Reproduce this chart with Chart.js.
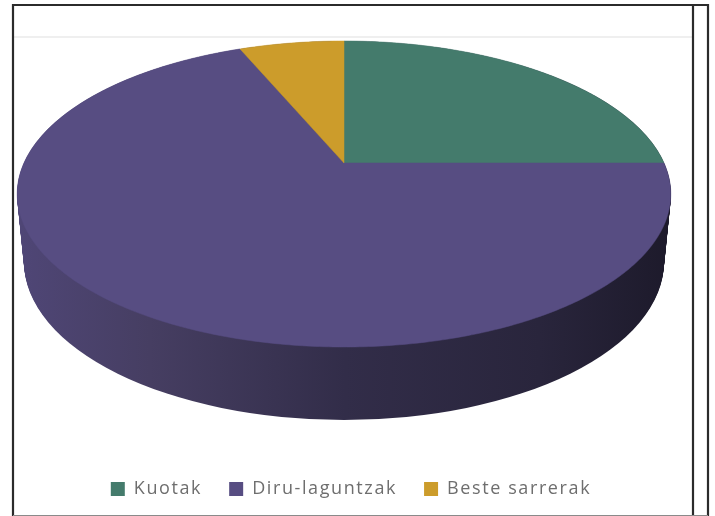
<!DOCTYPE html>
<html><head><meta charset="utf-8">
<style>html,body{margin:0;padding:0;background:#fff;overflow:hidden}canvas{display:block;filter:blur(.6px)}</style>
<script src="https://cdn.jsdelivr.net/npm/chart.js@4"></script></head>
<body><canvas id="c" width="715" height="516"></canvas>
<script>
const categories = ["Kuotak", "Diru-laguntzak", "Beste sarrerak"];
const shares = [25, 68.7, 6.3];
const colors = ["#447b6c", "#574d82", "#cc9c2b"];

// tilted-disc projection of the library's arc angles
const apexX = 344, apexY = 163, spanX = 320, rise = 113.7, tilt = -0.2026;
const project = (a) => {
  const u = Math.cos(a), v = Math.sin(a), w = 1 + tilt * v;
  return [apexX + spanX * u / w, (apexY + rise * v) / w];
};
const ellipseTop = {cy: 194, rx: 327, ry: 153};
const ellipseLow = {cy: 262, rx: 320, ry: 158};

const tiltedPie = {
  id: "tiltedPie",
  beforeLayout(chart) { chart.ctx.letterSpacing = "1.6px"; },
  beforeDraw(chart) {
    const c = chart.ctx;
    c.save();
    c.fillStyle = "#fff"; c.fillRect(0, 0, 715, 516);
    c.fillStyle = "#efefef"; c.fillRect(14, 36, 679, 2);
    c.strokeStyle = "#2b2b2b"; c.lineWidth = 2.2;
    c.beginPath();
    c.moveTo(13, 516); c.lineTo(13, 5); c.lineTo(708, 5); c.lineTo(708, 516);
    c.moveTo(693, 5); c.lineTo(693, 516);
    c.stroke();
    c.fillStyle = "#8a8a8a"; c.fillRect(13, 515, 695, 1);
    c.restore();
  },
  beforeDatasetsDraw(chart) {
    const c = chart.ctx, arcs = chart.getDatasetMeta(0).data;
    c.save();
    const g = c.createLinearGradient(20, 0, 670, 0);
    g.addColorStop(0, "#4f4676");
    g.addColorStop(0.2, "#463e62");
    g.addColorStop(0.5, "#322d49");
    g.addColorStop(0.8, "#29253c");
    g.addColorStop(1, "#1d1a2b");
    c.fillStyle = g;
    for (let i = 0; i <= 60; i++) {
      const t = i / 60;
      c.beginPath();
      c.ellipse(apexX,
        ellipseLow.cy + (ellipseTop.cy - ellipseLow.cy) * t,
        ellipseLow.rx + (ellipseTop.rx - ellipseLow.rx) * t,
        ellipseLow.ry + (ellipseTop.ry - ellipseLow.ry) * t, 0, 0, Math.PI * 2);
      c.fill();
    }
    arcs.forEach((arc, i) => {
      const p = arc.getProps(["startAngle", "endAngle"], true);
      c.beginPath();
      c.moveTo(apexX, apexY);
      const n = Math.ceil((p.endAngle - p.startAngle) * 90);
      for (let k = 0; k <= n; k++) {
        const [x, y] = project(p.startAngle + (p.endAngle - p.startAngle) * k / n);
        c.lineTo(x, y);
      }
      c.closePath();
      c.fillStyle = colors[i];
      c.fill();
      c.strokeStyle = colors[i];
      c.lineWidth = 0.5;
      c.stroke();
    });
    c.restore();
    return false;
  }
};

new Chart(document.getElementById("c"), {
  type: "pie",
  data: {labels: categories, datasets: [{data: shares, backgroundColor: colors, borderWidth: 0}]},
  options: {
    responsive: false, animation: false,
    layout: {padding: {right: 13, bottom: 8}},
    plugins: {
      tooltip: {enabled: false},
      legend: {
        position: "bottom",
        labels: {boxWidth: 14, boxHeight: 14, padding: 27, color: "#6e6e6e",
                 font: {family: "'Open Sans'", size: 18}}
      }
    }
  },
  plugins: [tiltedPie]
});
</script></body></html>
